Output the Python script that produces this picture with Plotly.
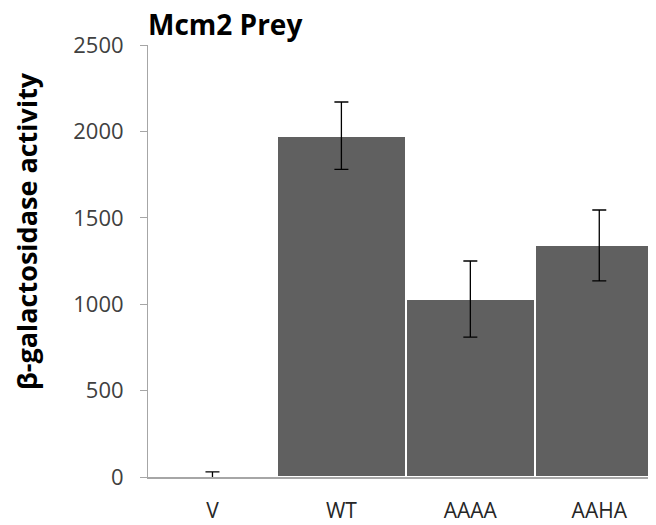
import plotly.graph_objects as go

categories = ["V", "WT", "AAAA", "AAHA"]
values = [5, 1975, 1030, 1340]
errors = [25, 195, 220, 205]
y_ticks = [0, 500, 1000, 1500, 2000, 2500]

# page body has an 8px default margin, so layout is offset by -8px
fig = go.Figure(go.Bar(
    x=categories, y=values,
    marker=dict(color="#606060", line=dict(color="white", width=2)),
    error_y=dict(type="data", array=errors, color="black", thickness=1.3, width=7),
))
fig.update_layout(
    width=656, height=525,
    margin=dict(l=140, r=8, t=37, b=56),
    paper_bgcolor="white", plot_bgcolor="white",
    bargap=0,
    showlegend=False,
    font=dict(family="Open Sans", color="#404040"),
    annotations=[
        dict(
            text="<b>Mcm2 Prey</b>",
            xref="paper", yref="paper", x=-2/508, y=1 + 21/432,
            xanchor="left", yanchor="middle", showarrow=False,
            font=dict(family="Open Sans", size=28, color="black"),
        ),
        dict(
            text="<b>β-galactosidase activity</b>", textangle=-90,
            xref="paper", yref="paper", x=-122/508, y=(477-231)/432,
            xanchor="center", yanchor="middle", showarrow=False,
            font=dict(family="Open Sans", size=27, color="black"),
        ),
    ],
)
fig.update_xaxes(
    range=[-0.5, 3.44], showline=True, linecolor="#a6a6a6", linewidth=2,
    ticks="", tickfont=dict(size=21, color="#262626"), ticklabelstandoff=14,
    showgrid=False, zeroline=False, automargin=False,
)
fig.update_yaxes(
    range=[0, 2500], tickvals=y_ticks, showline=True, linecolor="#a6a6a6", linewidth=1,
    ticks="outside", ticklen=7, tickcolor="#a6a6a6", tickfont=dict(size=22, color="#404040"),
    ticklabelstandoff=12, showgrid=False, zeroline=False, automargin=False,
)
fig.write_html("out.html")
